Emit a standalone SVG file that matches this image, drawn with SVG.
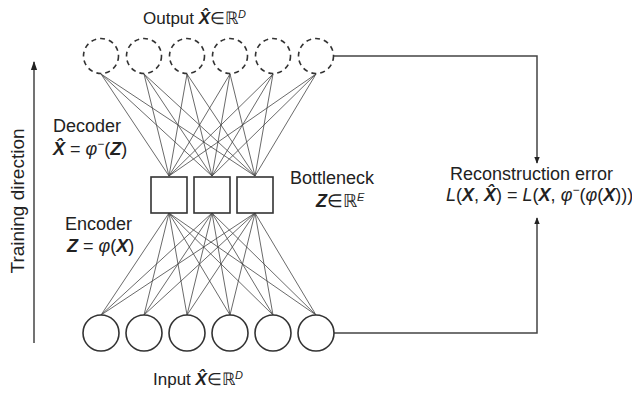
<svg xmlns="http://www.w3.org/2000/svg" width="632" height="395" viewBox="0 0 632 395">
<defs>
<style>
text{font-family:"Liberation Sans",Arial,sans-serif;fill:#222;font-size:18px}
.b{font-weight:bold;font-style:italic}
.i{font-style:italic}
.node{fill:#fff;stroke:#333;stroke-width:1.6}
.dash{fill:none;stroke:#333;stroke-width:1.6;stroke-dasharray:5 4}
.w{stroke:#444;stroke-width:0.8;fill:none}
.c{stroke:#444;stroke-width:1.5;fill:none}
.sup{font-size:11px}
.mn{font-size:12px}
</style>
<marker id="ah" viewBox="0 0 10 10" refX="9" refY="5" markerWidth="7" markerHeight="7" orient="auto" markerUnits="userSpaceOnUse">
<path d="M0,1 L10,5 L0,9 z" fill="#222"/>
</marker>
<marker id="ah2" viewBox="0 0 10 10" refX="9" refY="5" markerWidth="9" markerHeight="9" orient="auto" markerUnits="userSpaceOnUse">
<path d="M0,1.5 L10,5 L0,8.5 z" fill="#222"/>
</marker>
</defs>
<rect width="632" height="395" fill="#fff"/>

<g id="connectors">
<g id="decoder-weights" class="w">
<path d="M101,74 L169,176 M101,74 L212,176 M101,74 L255,176"/>
<path d="M144,74 L169,176 M144,74 L212,176 M144,74 L255,176"/>
<path d="M187,74 L169,176 M187,74 L212,176 M187,74 L255,176"/>
<path d="M230,74 L169,176 M230,74 L212,176 M230,74 L255,176"/>
<path d="M273,74 L169,176 M273,74 L212,176 M273,74 L255,176"/>
<path d="M316,74 L169,176 M316,74 L212,176 M316,74 L255,176"/>
</g>
<g id="encoder-weights" class="w">
<path d="M169,213 L101,315 M169,213 L144,315 M169,213 L187,315 M169,213 L230,315 M169,213 L273,315 M169,213 L316,315"/>
<path d="M212,213 L101,315 M212,213 L144,315 M212,213 L187,315 M212,213 L230,315 M212,213 L273,315 M212,213 L316,315"/>
<path d="M255,213 L101,315 M255,213 L144,315 M255,213 L187,315 M255,213 L230,315 M255,213 L273,315 M255,213 L316,315"/>
</g>
<path id="out-to-error" class="c" d="M334,56 H537 V163" marker-end="url(#ah)"/>
<path id="in-to-error" class="c" d="M334,333 H537 V218" marker-end="url(#ah)"/>
<path id="training-arrow" class="c" d="M34,343 V62" marker-end="url(#ah2)"/>
</g>

<g id="output-layer">
<circle class="dash" cx="101" cy="56" r="17.5"/>
<circle class="dash" cx="144" cy="56" r="17.5"/>
<circle class="dash" cx="187" cy="56" r="17.5"/>
<circle class="dash" cx="230" cy="56" r="17.5"/>
<circle class="dash" cx="273" cy="56" r="17.5"/>
<circle class="dash" cx="316" cy="56" r="17.5"/>
</g>
<g id="bottleneck-layer">
<rect class="node" x="151" y="177" width="36" height="36"/>
<rect class="node" x="194" y="177" width="36" height="36"/>
<rect class="node" x="237" y="177" width="36" height="36"/>
</g>
<g id="input-layer">
<circle class="node" cx="101" cy="333" r="18"/>
<circle class="node" cx="144" cy="333" r="18"/>
<circle class="node" cx="187" cy="333" r="18"/>
<circle class="node" cx="230" cy="333" r="18"/>
<circle class="node" cx="273" cy="333" r="18"/>
<circle class="node" cx="316" cy="333" r="18"/>
</g>

<g id="output-label"><text x="143" y="24" style="font-size:17px">Output <tspan class="b">X&#x302;</tspan>∈ℝ<tspan class="i sup" dy="-6">D</tspan></text></g>
<g id="input-label"><text x="153" y="385" style="font-size:17px">Input <tspan class="b">X&#x302;</tspan>∈ℝ<tspan class="i sup" dy="-6">D</tspan></text></g>
<g id="decoder-label">
<text x="53" y="132">Decoder</text>
<text x="53" y="155"><tspan class="b">X&#x302;</tspan> = <tspan class="i">φ</tspan><tspan class="mn" dy="-7">−</tspan><tspan dy="7">(</tspan><tspan class="b">Z</tspan>)</text>
</g>
<g id="encoder-label">
<text x="65" y="230">Encoder</text>
<text x="67" y="252"><tspan class="b">Z</tspan> = <tspan class="i">φ</tspan>(<tspan class="b">X</tspan>)</text>
</g>
<g id="bottleneck-label">
<text x="290" y="184">Bottleneck</text>
<text x="316" y="207"><tspan class="b">Z</tspan>∈ℝ<tspan class="i sup" dy="-6">E</tspan></text>
</g>
<g id="error-label">
<text x="450" y="180">Reconstruction error</text>
<text x="446" y="201"><tspan class="i">L</tspan>(<tspan class="b">X</tspan>, <tspan class="b">X&#x302;</tspan>) = <tspan class="i">L</tspan>(<tspan class="b">X</tspan>, <tspan class="i">φ</tspan><tspan class="mn" dy="-7">−</tspan><tspan dy="7">(</tspan><tspan class="i">φ</tspan>(<tspan class="b">X</tspan>)))</text>
</g>
<g id="training-label"><text transform="translate(24,201) rotate(-90)" text-anchor="middle" style="font-size:19px">Training direction</text></g>
</svg>
